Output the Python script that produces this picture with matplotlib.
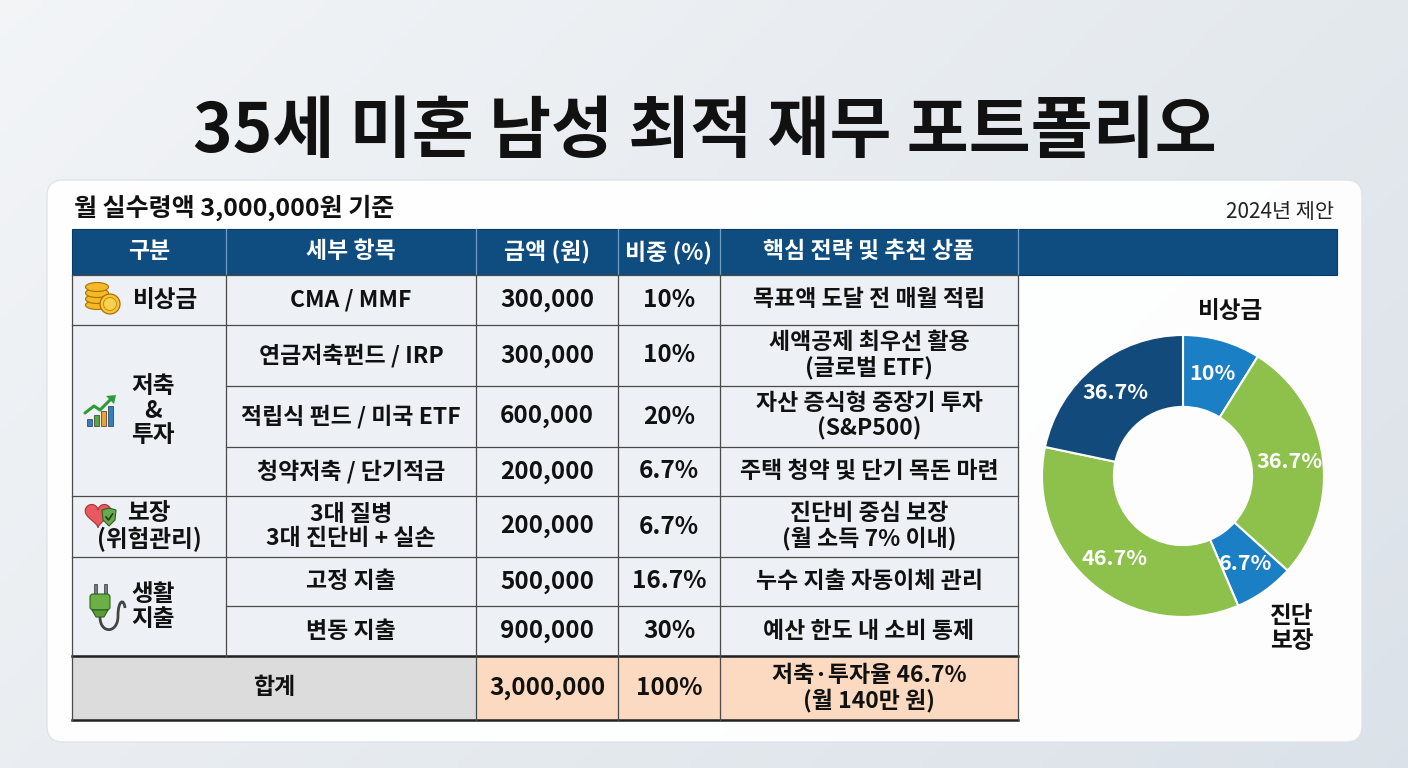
import numpy as np
import matplotlib
matplotlib.use('Agg')
import matplotlib.pyplot as plt
from matplotlib.patches import FancyBboxPatch, Rectangle, Ellipse, Circle, Polygon, PathPatch
from matplotlib.path import Path

plt.rcParams['font.family'] = ['Noto Sans CJK KR', 'DejaVu Sans']

# ---------------- data ----------------
title = '35세 미혼 남성 최적 재무 포트폴리오'
subtitle = '월 실수령액 3,000,000원 기준'
note = '2024년 제안'
headers = ['구분', '세부 항목', '금액 (원)', '비중 (%)', '핵심 전략 및 추천 상품']
categories = ['비상금', '저축\n&\n투자', '보장\n(위험관리)', '생활\n지출']
category_spans = [1, 3, 1, 2]
items = ['CMA / MMF', '연금저축펀드 / IRP', '적립식 펀드 / 미국 ETF', '청약저축 / 단기적금',
         '3대 질병\n3대 진단비 + 실손', '고정 지출', '변동 지출']
amounts = [300000, 300000, 600000, 200000, 200000, 500000, 900000]
strategies = ['목표액 도달 전 매월 적립', '세액공제 최우선 활용\n(글로벌 ETF)',
              '자산 증식형 중장기 투자\n(S&P500)', '주택 청약 및 단기 목돈 마련',
              '진단비 중심 보장\n(월 소득 7% 이내)', '누수 지출 자동이체 관리', '예산 한도 내 소비 통제']
total_label = '합계'
total_note = '저축·투자율 46.7%\n(월 140만 원)'

donut_labels = ['10%', '36.7%', '6.7%', '46.7%', '36.7%']
donut_shares = [8.9, 27.8, 6.9, 34.7, 21.7]   # wedge sizes as drawn in the picture
donut_outer_labels = ['비상금', '', '진단\n보장', '', '']

# ---------------- layout / style ----------------
W, H = 1408, 768
fig = plt.figure(figsize=(W / 100, H / 100), dpi=100)
ax = fig.add_axes([0, 0, 1, 1])
ax.set_xlim(0, W)
ax.set_ylim(H, 0)
ax.axis('off')

# background gradient
gx, gy = np.meshgrid(np.linspace(0, 1, 200), np.linspace(0, 1, 110))
t = np.clip(0.15 + 0.45 * gx + 0.25 * gy, 0, 1)[..., None]
c0 = np.array([0.97, 0.975, 0.98])
c1 = np.array([0.84, 0.87, 0.90])
bg = c0 * (1 - t) + c1 * t
ax.imshow(bg, extent=[0, W, H, 0], aspect='auto', zorder=0)

# white panel
ax.add_patch(FancyBboxPatch((47, 180), 1315, 562, boxstyle='round,pad=0,rounding_size=16',
                            fc='white', ec='#dfe3e8', lw=1, alpha=0.96, zorder=1))

TXT = '#111111'
ax.text(705, 133, title, fontsize=48.5, weight='black', ha='center', va='center', color=TXT, zorder=5)
ax.text(74, 208, subtitle, fontsize=18, weight='bold', ha='left', va='center', color=TXT, zorder=5)
ax.text(1334, 212, note, fontsize=15, ha='right', va='center', color='#222222', zorder=5)

col_x = [72, 226, 476, 618, 720, 1018]
header_right = 1337
row_y = [229, 275, 325, 386, 447, 496, 557, 606, 656, 720]
LINE = '#4a4a4a'
CELL = '#edf1f5'
HEAD = '#0f4c80'

# header
ax.add_patch(Rectangle((col_x[0], row_y[0]), header_right - col_x[0], row_y[1] - row_y[0],
                       fc=HEAD, ec='#0a3a66', lw=0.8, zorder=2))
for x in col_x[1:]:
    ax.plot([x, x], [row_y[0], row_y[1]], color='#6f9cc6', lw=0.9, zorder=3)
for i, h in enumerate(headers):
    cx = (col_x[i] + col_x[i + 1]) / 2
    ax.text(cx, (row_y[0] + row_y[1]) / 2, h, color='white', fontsize=16.5, weight='bold',
            ha='center', va='center', zorder=4)

# body backgrounds
ax.add_patch(Rectangle((col_x[0], row_y[1]), col_x[5] - col_x[0], row_y[8] - row_y[1],
                       fc=CELL, ec='none', zorder=2))
ax.add_patch(Rectangle((col_x[0], row_y[8]), col_x[2] - col_x[0], row_y[9] - row_y[8],
                       fc='#dcdcdc', ec='none', zorder=2))
ax.add_patch(Rectangle((col_x[2], row_y[8]), col_x[5] - col_x[2], row_y[9] - row_y[8],
                       fc='#fbdac1', ec='none', zorder=2))

# grid lines
cat_bounds = np.cumsum([0] + category_spans)
for r in range(1, 9):
    full = r - 1 in cat_bounds
    x0 = col_x[0] if full else col_x[1]
    ax.plot([x0, col_x[5]], [row_y[r], row_y[r]], color=LINE, lw=0.9, zorder=3)
ax.plot([col_x[0], col_x[5]], [row_y[8], row_y[8]], color='#222222', lw=1.8, zorder=3)
ax.plot([col_x[0], col_x[5]], [row_y[9], row_y[9]], color='#222222', lw=1.8, zorder=3)
for x in col_x:
    ax.plot([x, x], [row_y[1], row_y[8]], color=LINE, lw=0.9, zorder=3)
    if x != col_x[1]:
        ax.plot([x, x], [row_y[8], row_y[9]], color=LINE, lw=0.9, zorder=3)

# body text
total = sum(amounts)
sizes = [16.5, 17.5, 17.5, 16.5]
for i in range(len(items)):
    cy = (row_y[i + 1] + row_y[i + 2]) / 2
    pct = f'{amounts[i] / total * 100:.1f}'.rstrip('0').rstrip('.') + '%'
    vals = [items[i], f'{amounts[i]:,}', pct, strategies[i]]
    for j, v in enumerate(vals):
        cx = (col_x[j + 1] + col_x[j + 2]) / 2
        ax.text(cx, cy, v, fontsize=sizes[j], weight='bold', ha='center', va='center',
                color=TXT, linespacing=1.1, zorder=4)

ty = (row_y[8] + row_y[9]) / 2
ax.text((col_x[0] + col_x[2]) / 2, ty, total_label, fontsize=16.5, weight='bold',
        ha='center', va='center', color=TXT, zorder=4)
ax.text((col_x[2] + col_x[3]) / 2, ty, f'{total:,}', fontsize=17.5, weight='bold',
        ha='center', va='center', color=TXT, zorder=4)
ax.text((col_x[3] + col_x[4]) / 2, ty, '100%', fontsize=17.5, weight='bold',
        ha='center', va='center', color=TXT, zorder=4)
ax.text((col_x[4] + col_x[5]) / 2, ty, total_note, fontsize=16.5, weight='bold',
        ha='center', va='center', color=TXT, linespacing=1.1, zorder=4)


# ---------------- icons ----------------
def icon_coins(cx, cy):
    for k in range(4):
        ax.add_patch(Ellipse((cx - 4, cy + 9 - k * 6), 23, 9, fc='#f4b925', ec='#a8700c', lw=0.8, zorder=5))
    ax.add_patch(Circle((cx + 9, cy + 8), 10, fc='#f7c530', ec='#a8700c', lw=0.9, zorder=6))
    ax.add_patch(Circle((cx + 9, cy + 8), 6.5, fc='#f9d050', ec='#c58d18', lw=0.7, zorder=6))


def icon_growth(cx, cy):
    cols = ['#2f7fc1', '#55a845', '#f0a030', '#2f7fc1']
    hs = [7, 11, 15, 20]
    for k in range(4):
        ax.add_patch(Rectangle((cx - 14 + k * 7, cy + 14 - hs[k]), 5, hs[k], fc=cols[k],
                               ec='#333333', lw=0.5, zorder=5))
    xs = [cx - 16, cx - 7, cx - 1, cx + 10]
    ys = [cy + 1, cy - 6, cy - 2, cy - 13]
    ax.plot(xs, ys, color='#2e9a3a', lw=2.2, solid_capstyle='round', zorder=6)
    ax.add_patch(Polygon([[cx + 15, cy - 17], [cx + 5, cy - 16], [cx + 13, cy - 8]],
                         fc='#2e9a3a', ec='none', zorder=6))


def icon_heart(cx, cy):
    t = np.linspace(0, 2 * np.pi, 80)
    hx = 16 * np.sin(t) ** 3
    hy = 13 * np.cos(t) - 5 * np.cos(2 * t) - 2 * np.cos(3 * t) - np.cos(4 * t)
    ax.add_patch(Polygon(np.c_[cx - 3 + hx * 0.8, cy - hy * 0.8], fc='#e85a5f', ec='#a83338',
                         lw=0.8, zorder=5))
    sx, sy = cx + 8, cy + 4
    shield = [[sx - 7, sy - 8], [sx, sy - 10], [sx + 7, sy - 8], [sx + 6, sy + 2], [sx, sy + 8],
              [sx - 6, sy + 2]]
    ax.add_patch(Polygon(shield, fc='#6aa84f', ec='#2f5f22', lw=0.8, zorder=6))
    ax.plot([sx - 3, sx - 0.5, sx + 3.5], [sy - 1, sy + 2, sy - 4], color='#1d3d12', lw=1.2, zorder=7)


def icon_plug(cx, cy):
    for dx in (-5, 5):
        ax.add_patch(Rectangle((cx - 4 + dx - 1.5, cy - 22), 3, 10, fc='#7a7a7a', ec='#333333',
                               lw=0.5, zorder=5))
    ax.add_patch(FancyBboxPatch((cx - 14, cy - 12), 20, 16, boxstyle='round,pad=0,rounding_size=3',
                                fc='#6bb044', ec='#2f5f22', lw=0.8, zorder=6))
    ax.add_patch(Polygon([[cx - 12, cy + 4], [cx + 4, cy + 4], [cx, cy + 11], [cx - 8, cy + 11]],
                         fc='#5a9a38', ec='#2f5f22', lw=0.8, zorder=6))
    verts = [(cx - 4, cy + 11), (cx - 4, cy + 28), (cx + 14, cy + 28), (cx + 14, cy + 10),
             (cx + 14, cy - 6), (cx + 20, cy - 8), (cx + 21, cy + 2)]
    codes = [Path.MOVETO, Path.CURVE4, Path.CURVE4, Path.CURVE4, Path.CURVE4, Path.CURVE4, Path.CURVE4]
    ax.add_patch(PathPatch(Path(verts, codes), fc='none', ec='#444444', lw=2.0, zorder=5))


cat_text_x = [166, 153, 149, 153]
for k, cat in enumerate(categories):
    r0, r1 = cat_bounds[k], cat_bounds[k + 1]
    cy = (row_y[r0 + 1] + row_y[r1 + 1]) / 2
    ax.text(cat_text_x[k], cy, cat, fontsize=17, weight='bold', ha='center', va='center',
            color=TXT, linespacing=1.05, zorder=6)
icon_coins(101, 296)
icon_growth(101, 412)
icon_heart(101, 514)
icon_plug(104, 606)

# ---------------- donut ----------------
cxp, cyp, R = 1183, 476, 141
lim = 1.15
side = 2 * lim * R
ax2 = fig.add_axes([(cxp - lim * R) / W, (H - cyp - lim * R) / H, side / W, side / H])
colors = ['#1a7fc4', '#8dc14c', '#1a7fc4', '#8dc14c', '#124a7b']
wedges, _ = ax2.pie(donut_shares, radius=1, startangle=90, counterclock=False, colors=colors,
                    wedgeprops=dict(width=0.51, edgecolor='white', linewidth=1.5))
ax2.set_xlim(-lim, lim)
ax2.set_ylim(-lim, lim)
ax2.set_aspect('equal')
ax2.axis('off')
outer_r = [1.22, 1.3, 1.33, 1.3, 1.3]
for k, w in enumerate(wedges):
    ang = np.deg2rad((w.theta1 + w.theta2) / 2)
    ax2.text(0.76 * np.cos(ang), 0.76 * np.sin(ang), donut_labels[k], color='white',
             fontsize=15.5, weight='bold', ha='center', va='center')
    if donut_outer_labels[k]:
        ax2.text(outer_r[k] * np.cos(ang), outer_r[k] * np.sin(ang), donut_outer_labels[k],
                 color=TXT, fontsize=17, weight='bold', ha='center', va='center',
                 linespacing=1.05, clip_on=False)

fig.savefig('out.png', dpi=100)
